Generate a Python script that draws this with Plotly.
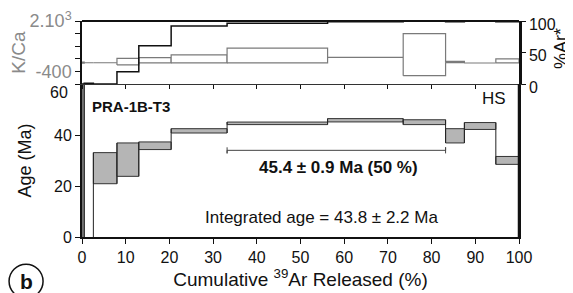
import plotly.graph_objects as go

# ---------------- data ----------------
step_bounds = [0, 0.5, 2.6, 8.0, 13.0, 20.4, 33.2, 56.2, 73.5, 83.2, 87.5, 94.7, 100]
age_ma = [45.0, -25.0, 27.0, 30.35, 35.8, 41.65, 44.6, 45.8, 45.05, 39.7, 43.55, 30.05]
age_err = [110.0, 15.0, 6.1, 6.55, 1.5, 0.85, 0.5, 0.65, 0.95, 2.8, 1.35, 1.55]
k_ca = [20, 20, 20, 69, 133, 198, 356, 275, 397, 52, 8, 102]
k_ca_err = [25, 6, 6, 158, 127, 192, 350, 8, 999, 31, 6, 96]
ar_rad = [0, 1.5, 0, 19.6, 60.7, 92, 96.3, 98.7, 100, 98.7, 100, 98.7]

plateau_start, plateau_end = 33.2, 83.2
plateau_text = "45.4 ± 0.9 Ma (50 %)"
integrated_text = "Integrated age = 43.8 ± 2.2 Ma"
sample_name = "PRA-1B-T3"
mineral = "HS"

x_ticks = list(range(0, 101, 10))
age_ticks = [0, 20, 40, 60]
age_ticktext = ["0", "20", "40", ""]   # "60" is placed just below its tick (see annotations)
kca_tickvals = [-1000, -400, 200, 800, 1400, 2000]
kca_ticktext = ["", "-400", "", "", "", "2.10<sup>3</sup>"]
ar_ticks = [0, 50, 100]

FONT = "Liberation Sans, Arial, sans-serif"
fig = go.Figure()

# ---------------- age spectrum boxes ----------------
n = len(age_ma)
for i in range(n):
    x0, x1 = step_bounds[i], step_bounds[i + 1]
    lo, hi = age_ma[i] - age_err[i], age_ma[i] + age_err[i]
    fig.add_trace(go.Scatter(
        x=[x0, x1, x1, x0, x0], y=[lo, lo, hi, hi, lo],
        mode="lines", fill="toself", fillcolor="#b5b5b5",
        line=dict(color="#333333", width=1), xaxis="x", yaxis="y",
        showlegend=False, hoverinfo="skip"))
# connectors between adjacent steps
for i in range(n - 1):
    xb = step_bounds[i + 1]
    lo = min(age_ma[i] - age_err[i], age_ma[i + 1] - age_err[i + 1])
    hi = max(age_ma[i] + age_err[i], age_ma[i + 1] + age_err[i + 1])
    fig.add_trace(go.Scatter(
        x=[xb, xb], y=[lo, hi], mode="lines",
        line=dict(color="#222222", width=1), xaxis="x", yaxis="y",
        showlegend=False, hoverinfo="skip"))

# plateau bar
pl_y, pl_h = 34.0, 1.2
fig.add_trace(go.Scatter(
    x=[plateau_start, plateau_start, plateau_start, plateau_end, plateau_end, plateau_end],
    y=[pl_y + pl_h, pl_y - pl_h, pl_y, pl_y, pl_y + pl_h, pl_y - pl_h],
    mode="lines", line=dict(color="#444444", width=1),
    xaxis="x", yaxis="y", showlegend=False, hoverinfo="skip"))

# ---------------- K/Ca boxes (top panel) ----------------
for i in range(n):
    x0, x1 = step_bounds[i], step_bounds[i + 1]
    lo, hi = k_ca[i] - k_ca_err[i], k_ca[i] + k_ca_err[i]
    fig.add_trace(go.Scatter(
        x=[x0, x1, x1, x0, x0], y=[lo, lo, hi, hi, lo],
        mode="lines", fill="toself", fillcolor="white",
        line=dict(color="#7a7a7a", width=1.2), xaxis="x2", yaxis="y2",
        showlegend=False, hoverinfo="skip"))

# %Ar* step line
fig.add_trace(go.Scatter(
    x=step_bounds, y=ar_rad + [ar_rad[-1]], mode="lines",
    line=dict(color="#111111", width=1.5, shape="hv"),
    xaxis="x2", yaxis="y3", showlegend=False, hoverinfo="skip"))

# ---------------- layout ----------------
split = 0.708
tickfont = dict(family=FONT, size=16, color="#111111")
fig.update_layout(
    width=573, height=293,
    margin=dict(l=74, r=62, t=13, b=64, autoexpand=False),
    paper_bgcolor="white", plot_bgcolor="white",
    font=dict(family=FONT, color="#111111"),
    xaxis=dict(domain=[0, 1], anchor="y", range=[0, 100], tickvals=x_ticks,
               automargin=False,
               showline=True, linewidth=2, linecolor="#111111",
               ticks="outside", ticklen=5, tickwidth=1, tickcolor="#111111",
               tickfont=tickfont, showgrid=False, zeroline=False,
               title=dict(text="Cumulative <sup>39</sup>Ar Released (%)",
                          font=dict(family=FONT, size=19, color="#111111"), standoff=4)),
    yaxis=dict(domain=[0, split], anchor="x", range=[0, 60], tickvals=age_ticks,
               ticktext=age_ticktext, automargin=False,
               showline=True, linewidth=2, linecolor="#111111", mirror=True,
               ticks="outside", ticklen=5, tickwidth=1, tickcolor="#111111",
               tickfont=tickfont, showgrid=False, zeroline=False,
               title=dict(text="Age (Ma)", font=dict(family=FONT, size=18, color="#111111"),
                          standoff=18)),
    xaxis2=dict(domain=[0, 1], anchor="y2", range=[0, 100], tickvals=x_ticks,
                automargin=False,
                showline=True, linewidth=1, linecolor="#333333",
                ticks="outside", ticklen=4, tickwidth=1, tickcolor="#111111",
                showticklabels=False, showgrid=False, zeroline=False),
    yaxis2=dict(domain=[split, 1], anchor="x2", range=[-1000, 2000],
                automargin=False, ticklabeloverflow="allow",
                tickvals=kca_tickvals, ticktext=kca_ticktext,
                showline=True, linewidth=1.5, linecolor="#111111",
                ticks="outside", ticklen=5, tickwidth=1, tickcolor="#111111",
                tickfont=dict(family=FONT, size=18, color="#8a8a8a"),
                showgrid=False, zeroline=False,
                title=dict(text="K/Ca", font=dict(family=FONT, size=19, color="#8a8a8a"),
                           standoff=1)),
    yaxis3=dict(domain=[split, 1], anchor="x2", overlaying="y2", side="right",
                automargin=False, ticklabeloverflow="allow",
                range=[0, 100], tickvals=ar_ticks,
                showline=True, linewidth=2.5, linecolor="#111111",
                ticks="outside", ticklen=4, tickwidth=1, tickcolor="#111111",
                tickfont=tickfont, ticklabelshift=3, showgrid=False, zeroline=False),
    shapes=[
        dict(type="line", xref="x2 domain", yref="y2 domain", x0=0, x1=1, y0=1, y1=1,
             line=dict(color="#111111", width=2)),
        dict(type="line", xref="x domain", yref="y domain", x0=1, x1=1, y0=0, y1=1,
             line=dict(color="#111111", width=2.5)),
        dict(type="circle", xref="paper", yref="paper", xsizemode="pixel", ysizemode="pixel",
             xanchor=-0.128, yanchor=-0.205, x0=-17, x1=17, y0=-17, y1=17,
             line=dict(color="#111111", width=1.5)),
    ],
    annotations=[
        dict(text="60", x=-0.027, y=56.8, xref="paper", yref="y",
             xanchor="right", yanchor="middle", showarrow=False,
             font=dict(family=FONT, size=16, color="#111111")),
        dict(text="%Ar*", x=1.096, y=0.875, xref="paper", yref="paper", textangle=-90,
             xanchor="center", yanchor="middle", showarrow=False,
             font=dict(family=FONT, size=18, color="#111111")),
        dict(text="<b>" + sample_name + "</b>", x=1.8, y=51.3, xref="x", yref="y",
             xanchor="left", yanchor="middle", showarrow=False,
             font=dict(family=FONT, size=15, color="#111111")),
        dict(text=mineral, x=97.4, y=54.4, xref="x", yref="y",
             xanchor="right", yanchor="middle", showarrow=False,
             font=dict(family=FONT, size=17, color="#111111")),
        dict(text="<b>" + plateau_text + "</b>", x=58.8, y=27.3, xref="x", yref="y",
             xanchor="center", yanchor="middle", showarrow=False,
             font=dict(family=FONT, size=17, color="#111111")),
        dict(text=integrated_text, x=54.8, y=7.8, xref="x", yref="y",
             xanchor="center", yanchor="middle", showarrow=False,
             font=dict(family=FONT, size=17, color="#111111")),
        dict(text="<b>b</b>", x=-0.128, y=-0.205, xref="paper", yref="paper",
             xanchor="center", yanchor="middle", showarrow=False,
             font=dict(family=FONT, size=21, color="#111111")),
    ],
)

fig.write_html("out.html")
